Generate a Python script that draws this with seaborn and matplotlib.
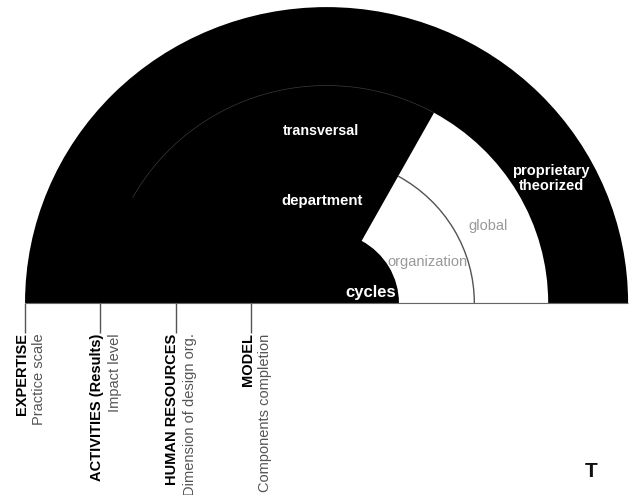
import matplotlib
matplotlib.use("Agg")
import matplotlib.pyplot as plt
from matplotlib.patches import Wedge, Arc
import seaborn as sns

#   rings of the half disc, from the centre out (radius 1 = outer edge)
ring_names = ["cycles", "organization", "global", "proprietary theorized"]
ring_outer = [0.24, 0.49, 0.735, 1.0]
#   angle (deg, from the right) of the white part of each ring
ring_white = [0, 61, 61, 0]

#   labels inside the disc
black_labels = ["cycles", "department", "transversal", "proprietary\ntheorized"]
grey_labels = ["organization", "global"]

#   scales hanging under the baseline
scale_titles = ["EXPERTISE", "ACTIVITIES (Results)", "HUMAN RESOURCES", "MODEL"]
scale_notes = ["Practice scale", "Impact level", "Dimension of design org.", "Components completion"]
scale_pos = [-1.0, -0.75, -0.5, -0.25]

sns.set_theme(style="white")
plt.rcParams['font.family'] = ['Liberation Sans', 'DejaVu Sans']

fig = plt.figure(figsize=(6.29, 4.95), dpi=100)
ax = fig.add_axes([0, 0, 1, 1])
ax.set_xlim(-1.083, 1.003)
ax.set_ylim(-0.649, 1.024)
ax.axis('off')

#   black half disc, then cut the white sector out of the middle rings
ax.add_patch(Wedge((0, 0), ring_outer[-1], 0, 180, facecolor='black', edgecolor='none'))
inner = 0
for r, w in zip(ring_outer, ring_white):
    if w > 0:
        ax.add_patch(Wedge((0, 0), r, 0, w, width=r - inner, facecolor='white', edgecolor='none'))
    inner = r

#   thin arcs: ring border inside the white sector, and a faint one in the black
ax.add_patch(Arc((0, 0), 2 * ring_outer[1], 2 * ring_outer[1], theta1=0, theta2=ring_white[1],
                 color='#555555', lw=1.0))
ax.add_patch(Arc((0, 0), 2 * ring_outer[2], 2 * ring_outer[2], theta1=ring_white[2], theta2=151,
                 color='#3a3a3a', lw=0.5))

ax.hlines(0, -ring_outer[-1], ring_outer[-1], color='#666666', lw=0.8)

#   labels in the disc
lab_xy = [(0.147, 0.034), (-0.015, 0.345), (-0.018, 0.581), (0.745, 0.42)]
lab_size = [12, 10.8, 10.3, 10.5]
for t, (x, y), s in zip(black_labels, lab_xy, lab_size):
    ax.text(x, y, t, color='white', fontsize=s, fontweight='bold', ha='center', va='center',
            linespacing=1.1)
grey_xy = [(0.333, 0.139), (0.536, 0.26)]
for t, (x, y) in zip(grey_labels, grey_xy):
    ax.text(x, y, t, color='#999999', fontsize=10.5, ha='center', va='center')

#   scales
ax.vlines(scale_pos, -0.101, 0, color='#555555', lw=1.0)
for p, t, n in zip(scale_pos, scale_titles, scale_notes):
    ax.text(p + 0.002, -0.103, t, rotation=90, rotation_mode='anchor', ha='right', va='baseline',
            fontsize=10.5, fontweight='bold', color='black')
    ax.text(p + 0.06, -0.103, n, rotation=90, rotation_mode='anchor', ha='right', va='baseline',
            fontsize=10.5, color='#555555')

ax.text(0.877, -0.568, "T", fontsize=15, fontweight='bold', ha='center', va='center', color='#111111')

plt.savefig('out.png', dpi=100)
